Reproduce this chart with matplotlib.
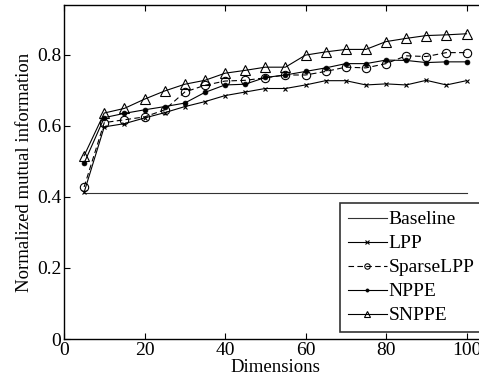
import matplotlib
matplotlib.use('Agg')
import matplotlib.pyplot as plt

plt.rcParams['font.family'] = ['Liberation Serif', 'DejaVu Serif']
plt.rcParams['mathtext.fontset'] = 'stix'

dims = [5, 10, 15, 20, 25, 30, 35, 40, 45, 50,
        55, 60, 65, 70, 75, 80, 85, 90, 95, 100]
baseline = 0.41
lpp = [0.413, 0.597, 0.606, 0.622, 0.637, 0.654, 0.668, 0.685, 0.695, 0.705,
       0.705, 0.715, 0.727, 0.727, 0.715, 0.718, 0.715, 0.728, 0.715, 0.727]
sparse_lpp = [0.428, 0.609, 0.617, 0.625, 0.645, 0.695, 0.714, 0.726, 0.728, 0.735,
              0.743, 0.743, 0.753, 0.765, 0.763, 0.775, 0.797, 0.795, 0.806, 0.806]
nppe = [0.495, 0.623, 0.635, 0.645, 0.654, 0.664, 0.694, 0.715, 0.717, 0.736,
        0.743, 0.753, 0.763, 0.775, 0.775, 0.785, 0.784, 0.778, 0.780, 0.780]
snppe = [0.516, 0.636, 0.649, 0.675, 0.698, 0.717, 0.728, 0.748, 0.756, 0.765,
         0.765, 0.799, 0.808, 0.815, 0.815, 0.837, 0.846, 0.854, 0.856, 0.859]

fig = plt.figure(figsize=(4.79, 3.9), dpi=100)
fig.patch.set_facecolor('white')
ax = fig.add_axes([64 / 479, 51 / 390, (105 * 4.025) / 479, 334 / 390])

lw = 0.8
ax.plot([dims[0], dims[-1]], [baseline, baseline], color='#333333', lw=lw,
        label='Baseline')
ax.plot(dims, lpp, color='black', lw=lw, marker='x', ms=3.5, mew=0.8,
        label='LPP')
ax.plot(dims, sparse_lpp, color='black', lw=lw, ls=(0, (5, 3)), marker='o',
        ms=6, mfc='none', mew=0.8, label='SparseLPP')
ax.plot(dims, nppe, color='black', lw=lw, marker='o', ms=3.5, mew=0.5,
        label='NPPE')
ax.plot(dims, snppe, color='black', lw=lw, marker='^', ms=7.5, mfc='none',
        mew=0.8, label='SNPPE')

ax.set_xlim(0, 105)
ax.set_ylim(0, 0.94)
ax.set_xticks([0, 20, 40, 60, 80, 100])
ax.set_yticks([0, 0.2, 0.4, 0.6, 0.8])
ax.set_yticklabels(['0', '0.2', '0.4', '0.6', '0.8'])
ax.tick_params(direction='in', top=True, right=True, labelsize=14,
               length=4, width=0.8, pad=2)
for s in ax.spines.values():
    s.set_linewidth(1.0)

ax.set_xlabel('Dimensions', fontsize=13.5, labelpad=0)
ax.set_ylabel('Normalized mutual information', fontsize=13.5, labelpad=3)

leg = ax.legend(loc='upper left', bbox_to_anchor=(340 / 479, 1 - 203 / 390),
                bbox_transform=fig.transFigure, fontsize=14, frameon=True,
                fancybox=False, edgecolor='black', handlelength=2.0,
                handletextpad=0.1, borderpad=0.4, labelspacing=0.33,
                borderaxespad=0, markerscale=0.65)
leg.get_frame().set_linewidth(1.2)

fig.savefig('out.png', dpi=100, facecolor='white')
